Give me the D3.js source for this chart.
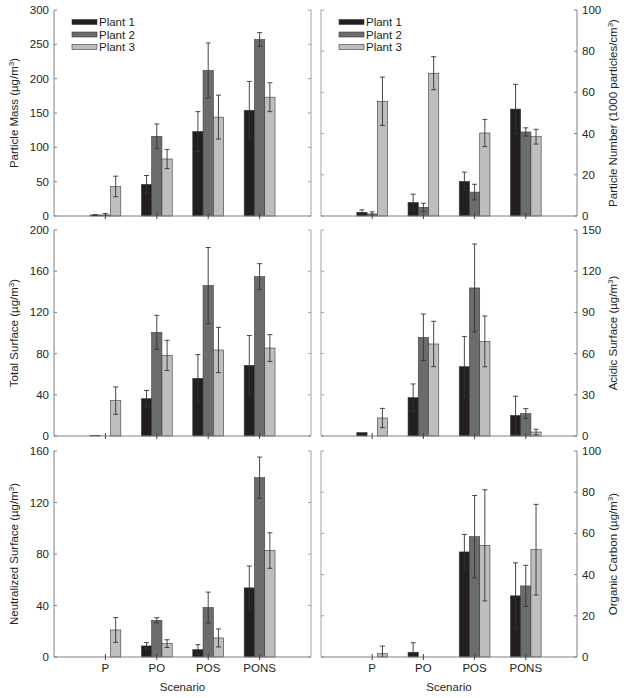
<!DOCTYPE html>
<html><head><meta charset="utf-8">
<script src="https://cdn.jsdelivr.net/npm/d3@7"></script>
<style>
body{margin:0;background:#fff;}
text{font-family:"Liberation Sans",Arial,sans-serif;fill:#231f20;}
</style></head>
<body>
<svg id="chart" width="629" height="698"></svg>
<script>
const scenarios = ["P","PO","POS","PONS"];
const plants = ["Plant 1","Plant 2","Plant 3"];
const plantColors = ["#231f20","#6b6c6e","#bcbec0"];

const massMean = [[1.5,46,123,154],[1.5,116,212,257],[43,83,144,173]];
const massErr  = [[0.5,13,29,42],[2,18,40,10],[15,14,32,21]];
const massTicks = [0,50,100,150,200,250,300];

const numberMean = [[1.8,6.6,16.8,51.9],[1,4.2,11.6,40.8],[55.7,69.3,40.3,38.5]];
const numberErr  = [[1.2,4,4.5,12],[1,2,3.8,2],[11.7,8,6.6,3.6]];
const numberTicks = [0,20,40,60,80,100];

const totalMean = [[0.5,36.2,56,68.6],[0,100.6,146,154.7],[34.3,78.3,83.5,85.4]];
const totalErr  = [[0,8,23,29],[0,16.5,37,12.6],[13.3,14.6,22,13]];
const totalTicks = [0,40,80,120,160,200];

const acidicMean = [[2.5,27.9,50.5,15],[0,71.8,107.8,16.3],[13.1,67,68.9,2.9]];
const acidicErr  = [[0,10,22,14],[0,17,32,3.6],[7,16.5,18.5,2]];
const acidicTicks = [0,30,60,90,120,150];

const neutMean = [[0,8.6,5.7,53.7],[0,28.5,38.4,139.3],[21,10.4,14.8,82.7]];
const neutErr  = [[0,2.6,3.9,17],[0,2,12,16],[9.6,3,7,13.8]];
const neutTicks = [0,40,80,120,160];

const ocMean = [[0,2.3,51,29.7],[0,0,58.4,34.5],[1.6,0,54.2,52.1]];
const ocErr  = [[0,4.6,8.5,16],[0,0,20,10],[3.7,0,27,22]];
const ocTicks = [0,20,40,60,80,100];

const panels = [
  {row:0,col:0,mean:massMean,err:massErr,ticks:massTicks,label:["Particle Mass (\u00b5g/m","3",")"],legend:true},
  {row:0,col:1,mean:numberMean,err:numberErr,ticks:numberTicks,label:["Particle Number (1000 particles/cm","3",")"],legend:true},
  {row:1,col:0,mean:totalMean,err:totalErr,ticks:totalTicks,label:["Total Surface (\u00b5g/m","3",")"]},
  {row:1,col:1,mean:acidicMean,err:acidicErr,ticks:acidicTicks,label:["Acidic Surface (\u00b5g/m","3",")"]},
  {row:2,col:0,mean:neutMean,err:neutErr,ticks:neutTicks,label:["Neutralized Surface (\u00b5g/m","3",")"],xlabels:true},
  {row:2,col:1,mean:ocMean,err:ocErr,ticks:ocTicks,label:["Organic Carbon (\u00b5g/m","3",")"],xlabels:true}
];

const rowsY = [[10,216],[230,436],[451,657]];
const colsX = [[54,311],[321,577]];
const axisColor = "#808080";
const svg = d3.select("#chart");

panels.forEach(p => {
  const [x0,x1] = colsX[p.col];
  const [yt,yb] = rowsY[p.row];
  const maxV = p.ticks[p.ticks.length-1];
  const y = d3.scaleLinear().domain([0,maxV]).range([yb,yt]);
  const x = d3.scaleLinear().domain([0,5]).range([x0,x1]);
  const g = svg.append("g");
  const left = p.col===0;

  // axes lines
  const mainX = left ? x0 : x1;
  const otherX = left ? x1 : x0;
  g.append("line").attr("x1",mainX).attr("x2",mainX).attr("y1",yt).attr("y2",yb).attr("stroke",axisColor).attr("stroke-width",1);
  g.append("line").attr("x1",otherX).attr("x2",otherX).attr("y1",yt).attr("y2",yb).attr("stroke","#a0a0a0").attr("stroke-width",1);

  // y ticks
  p.ticks.forEach(t => {
    const ty = y(t);
    const dir = left ? 1 : -1;
    g.append("line").attr("x1",mainX).attr("x2",mainX+dir*3).attr("y1",ty).attr("y2",ty).attr("stroke",axisColor);
    g.append("line").attr("x1",otherX).attr("x2",otherX-dir*3).attr("y1",ty).attr("y2",ty).attr("stroke","#a0a0a0");
    g.append("text").attr("x", left ? x0-5 : x1+5).attr("y",ty).attr("dy","0.35em")
      .attr("text-anchor", left ? "end" : "start").attr("font-size",11.5).text(t);
  });

  // y label
  const lx = left ? 18 : 617;
  const lab = g.append("text").attr("transform",`translate(${lx},${(yt+yb)/2}) rotate(-90)`)
    .attr("text-anchor","middle").attr("font-size",11.5);
  lab.append("tspan").text(p.label[0]);
  lab.append("tspan").attr("dy",-4).attr("font-size",8).text(p.label[1]);
  lab.append("tspan").attr("dy",4).text(p.label[2]);

  // bars
  const bw = x(0.2)-x(0);
  p.mean.forEach((series,si) => {
    series.forEach((v,ci) => {
      const cx = x(ci+1) + (si-1)*bw;
      if (v > 0) {
        g.append("rect").attr("x",cx-bw/2).attr("y",y(v)).attr("width",bw).attr("height",y(0)-y(v))
          .attr("fill",plantColors[si]).attr("stroke","#3a3a3a").attr("stroke-width",0.6);
      }
    });
  });

  // x axis
  g.append("line").attr("x1",x0).attr("x2",x1).attr("y1",yb).attr("y2",yb).attr("stroke",axisColor);
  scenarios.forEach((s,ci) => {
    const tx = x(ci+1);
    g.append("line").attr("x1",tx).attr("x2",tx).attr("y1",yb-3).attr("y2",yb+3).attr("stroke","#444");
    if (p.xlabels) {
      g.append("text").attr("x",tx).attr("y",yb+15).attr("text-anchor","middle").attr("font-size",11.5).text(s);
    }
  });
  if (p.xlabels) {
    g.append("text").attr("x",(x0+x1)/2).attr("y",yb+34).attr("text-anchor","middle").attr("font-size",11.5).text("Scenario");
  }

  // error bars
  p.mean.forEach((series,si) => {
    series.forEach((v,ci) => {
      const e = p.err[si][ci];
      if (e <= 0) return;
      const cx = x(ci+1) + (si-1)*bw;
      const hi = y(Math.min(maxV, v+e));
      const lo = y(Math.max(0, v-e));
      const ec = "#333";
      g.append("line").attr("x1",cx).attr("x2",cx).attr("y1",hi).attr("y2",lo).attr("stroke",ec).attr("stroke-width",0.9);
      g.append("line").attr("x1",cx-2.5).attr("x2",cx+2.5).attr("y1",hi).attr("y2",hi).attr("stroke",ec).attr("stroke-width",0.9);
      if (v-e > 0) g.append("line").attr("x1",cx-2.5).attr("x2",cx+2.5).attr("y1",lo).attr("y2",lo).attr("stroke",ec).attr("stroke-width",0.9);
    });
  });

  // legend
  if (p.legend) {
    const lx0 = x0 + (left ? 18 : 18);
    plants.forEach((name,i) => {
      const ly = 22 + i*12.5;
      g.append("rect").attr("x",lx0).attr("y",ly-2.5).attr("width",25).attr("height",5)
        .attr("fill",plantColors[i]).attr("stroke","#3a3a3a").attr("stroke-width",0.6);
      g.append("text").attr("x",lx0+27).attr("y",ly).attr("dy","0.35em").attr("font-size",11.5).text(name);
    });
  }
});
</script>
</body></html>
